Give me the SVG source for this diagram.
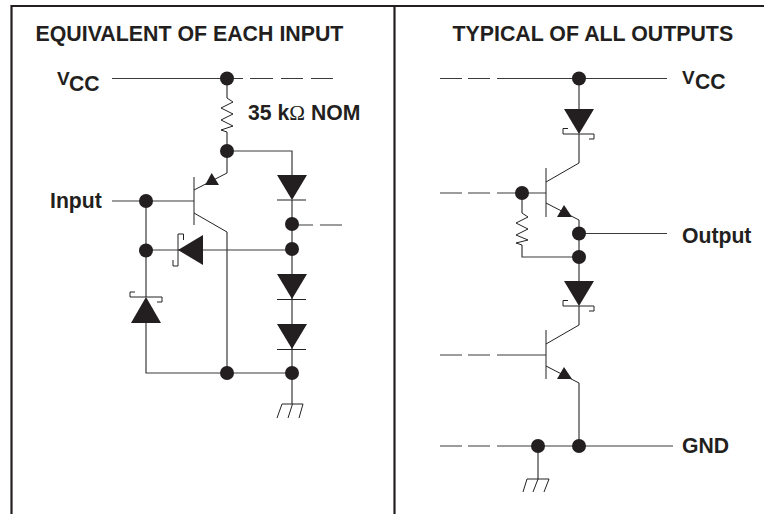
<svg xmlns="http://www.w3.org/2000/svg" width="764" height="514" viewBox="0 0 764 514">
<style>
.w{fill:none;stroke:#3a3a3a;stroke-width:1.2}
.t{fill:none;stroke:#222;stroke-width:1}
.b{fill:#231f20;stroke:none}
.f{fill:none;stroke:#231f20;stroke-width:2.2}
text{font-family:"Liberation Sans",Arial,sans-serif;font-weight:bold;fill:#231f20;font-size:21.2px}
.h{font-size:21.35px}
.v{font-size:19px}
</style>
<defs>
<circle id="dot" r="7" class="b"/>
<polygon id="tri" class="b" points="-15,0 15,0 0,25"/>
</defs>
<path class="f" d="M11.500 514V6H764M394.500 6V514"/>
<g id="connectors">
<path class="w" d="M112 78.500H243M250 78.500H273M281 78.500H303M311 78.500H333"/>
<path class="w" d="M227 78V98M227 132V151H292V175M292 200V373M298 225H313M320 225H342"/>
<path class="w" d="M112 201H194M146 201V297M146 323V373H292M146 250H292"/>
<path class="w" d="M227 151V173M227 232V373M292 373V404"/>
<path class="w" d="M440 78.500H462M468 78.500H490M497 78.500H667M579 78V109M579 134V163"/>
<path class="w" d="M440 193H462M468 193H490M497 193H546M522 193V213M522 245V257H579M579 220V281M579 233.500H667M579 306V325"/>
<path class="w" d="M440 355H462M468 355H490M497 355H546M579 383V446M440 446H462M468 446H490M497 446H673M538 446V479"/>
</g>
<g id="resistor-input"><path class="t" d="M227 98L233 102L221 108L233 114L221 120L233 126L221 130L227 132"/></g>
<g id="resistor-output"><path class="t" d="M522 213L528 217L516 223L528 229L516 235L528 240L516 243L522 245"/></g>
<g id="q1"><path class="t" d="M194 177V225M194 190L227 173M194 213L227 232"/><polygon class="b" points="211.700,173 205,185 219,185"/></g>
<g id="q2"><path class="t" d="M546 168V217M546 182L579 163M546 203L579 220"/><polygon class="b" points="564,205 557,217 572,217"/></g>
<g id="q3"><path class="t" d="M546 330V379M546 344L579 325M546 366L579 383"/><polygon class="b" points="564,367 557,379 572,379"/></g>
<g id="d1"><use href="#tri" x="292" y="175"/><path class="t" d="M277 200H306"/></g>
<g id="d2"><use href="#tri" x="292" y="274"/><path class="t" d="M277 299.500H306"/></g>
<g id="d3"><use href="#tri" x="292" y="324"/><path class="t" d="M277 349.500H306"/></g>
<g id="d4"><polygon class="b" points="178,250 203,235 203,265"/><path class="t" d="M183.500 240V234H178V266H173V260"/></g>
<g id="d5"><polygon class="b" points="146,297 131,323 161,323"/><path class="t" d="M135 292H130V297H162V302H157"/></g>
<g id="d6"><use href="#tri" x="579" y="109"/><path class="t" d="M568 128.500H563V134H594V139H589"/></g>
<g id="d7"><use href="#tri" x="579" y="281"/><path class="t" d="M568 300.500H563V306H594V311H589"/></g>
<g id="gnd1"><path class="t" d="M282 404H303M282 404L277 418M292.500 404L288 418M303 404L299 418"/></g>
<g id="gnd2"><path class="t" d="M527 479H549M527 479L523 492M538 479L533 492M549 479L544 492"/></g>
<g id="nodes">
<use href="#dot" x="227" y="78.500"/><use href="#dot" x="227" y="151"/><use href="#dot" x="292" y="224"/><use href="#dot" x="146" y="201"/><use href="#dot" x="146" y="250.500"/><use href="#dot" x="292" y="249"/><use href="#dot" x="227" y="373"/><use href="#dot" x="292" y="373"/>
<use href="#dot" x="579" y="78.500"/><use href="#dot" x="522" y="193"/><use href="#dot" x="579" y="233.500"/><use href="#dot" x="579" y="257"/><use href="#dot" x="538" y="446"/><use href="#dot" x="579" y="446"/>
</g>
<g id="labels">
<text x="35.500" y="40.500" class="h">EQUIVALENT OF EACH INPUT</text>
<text x="452.500" y="40.500" class="h">TYPICAL OF ALL OUTPUTS</text>
<text x="57" y="85" class="v">V</text><text x="69" y="90.500">CC</text>
<text x="682" y="83.500" class="v">V</text><text x="695" y="89">CC</text>
<text x="50" y="208">Input</text>
<text x="248" y="119.500">35 k<tspan font-family="Liberation Serif, serif" font-weight="normal">Ω</tspan> NOM</text>
<text x="682" y="242.500">Output</text>
<text x="682" y="452.500">GND</text>
</g>
</svg>
